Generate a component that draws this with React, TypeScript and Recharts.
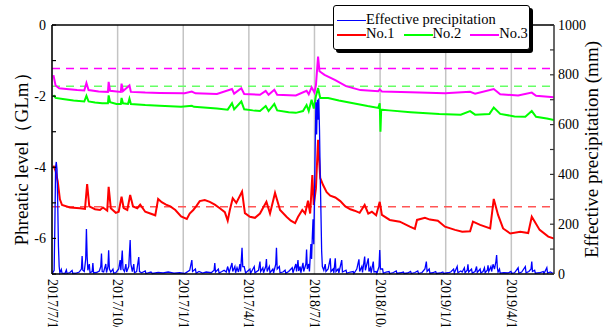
import { LineChart, Line, XAxis, YAxis, CartesianGrid, ReferenceLine, Legend } from 'recharts';

const SERIF = '"Liberation Serif", "Times New Roman", serif';

// x values are days counted from 2017/7/1
const dateTicks = [0, 91.5, 183, 274.5, 366, 457.5, 549, 640.5];
const dateLabels = ['2017/7/1', '2017/10/1', '2017/1/1', '2017/4/1', '2018/7/1', '2018/10/1', '2019/1/1', '2019/4/1'];

const levelTicks = [-7, -6, -5, -4, -3, -2, -1, 0];
const precipTicks = [0, 100, 200, 300, 400, 500, 600, 700, 800, 900, 1000];

// control levels (GLm)
const no1Control = -5.11;
const no2Control = -1.72;
const no3Control = -1.22;

// [day, GLm]
const no1Level: [number, number][] = [
  [2, -3.95], [5, -4.1], [8, -4.4], [11, -4.9], [14, -5.06], [25, -5.13], [39, -5.15], [46, -5.17],
  [49, -4.47], [52, -5.1], [60, -5.18], [67, -5.2], [71, -5.13], [77, -5.22], [79, -4.55], [82, -5.15],
  [89, -5.28], [93, -5.25], [97, -4.83], [100, -5.15], [105, -5.2], [109, -4.78], [113, -5.1], [119, -5.15],
  [123, -5.05], [130, -5.25], [137, -5.3], [144, -5.35], [148, -4.89], [153, -4.98], [159, -5.05], [165, -5.1],
  [172, -5.2], [180, -5.38], [188, -5.45], [192, -5.3], [197, -5.2], [201, -5.1], [206, -4.95], [213, -4.92],
  [220, -4.97], [227, -5.05], [234, -5.15], [241, -5.26], [245, -5.5], [248, -5.2], [252, -4.87], [257, -5.0],
  [265, -4.68], [269, -5.29], [276, -5.39], [283, -5.42], [290, -5.3], [294, -5.15], [299, -4.97], [304, -5.3],
  [311, -4.72], [318, -5.2], [327, -5.39], [333, -5.5], [339, -5.57], [343, -5.4], [349, -5.2], [353, -5.3],
  [357, -4.94], [360, -5.3], [363, -4.22], [365, -5.06], [368, -4.6], [371, -3.23], [374, -4.3], [378, -4.5],
  [383, -4.7], [388, -4.8], [395, -4.85], [402, -4.95], [409, -5.1], [416, -5.18], [422, -5.22], [429, -5.28],
  [436, -5.06], [441, -5.3], [446, -5.25], [452, -5.35], [457, -4.97], [460, -5.34], [471, -5.48], [485, -5.53],
  [499, -5.67], [506, -5.73], [509, -5.48], [520, -5.42], [527, -5.47], [538, -5.5], [548, -5.67], [562, -5.76],
  [572, -5.81], [583, -5.8], [587, -5.53], [597, -5.62], [611, -5.72], [616, -4.89], [622, -5.34], [629, -5.72],
  [639, -5.86], [653, -5.81], [664, -5.85], [669, -5.39], [680, -5.76], [692, -5.95], [700, -6.0],
];

const no2Level: [number, number][] = [
  [2, -1.97], [5, -2.05], [15, -2.08], [30, -2.12], [45, -2.15], [48, -1.99], [51, -2.15], [60, -2.18],
  [70, -2.2], [78, -2.2], [79, -1.98], [81, -2.17], [90, -2.22], [96, -2.22], [97, -2.05], [99, -2.2],
  [106, -2.22], [108, -2.07], [110, -2.22], [130, -2.25], [150, -2.27], [180, -2.3], [195, -2.27], [198, -2.3],
  [230, -2.35], [245, -2.38], [251, -2.2], [254, -2.37], [264, -2.15], [268, -2.37], [280, -2.4], [290, -2.42],
  [298, -2.28], [302, -2.42], [310, -2.22], [314, -2.4], [330, -2.45], [340, -2.47], [350, -2.42], [355, -2.25],
  [358, -2.42], [362, -2.1], [365, -2.35], [368, -2.0], [371, -1.77], [374, -2.05], [385, -2.05], [400, -2.12],
  [420, -2.2], [440, -2.28], [455, -2.33], [457, -2.2], [458, -3.0], [459, -2.38], [470, -2.4], [500, -2.45],
  [540, -2.5], [570, -2.52], [583, -2.42], [590, -2.52], [610, -2.5], [616, -2.32], [625, -2.5], [645, -2.57],
  [660, -2.58], [669, -2.42], [675, -2.58], [690, -2.63], [700, -2.67],
];

const no3Level: [number, number][] = [
  [2, -1.41], [5, -1.7], [10, -1.78], [20, -1.8], [35, -1.83], [45, -1.84], [48, -1.63], [51, -1.83],
  [65, -1.87], [78, -1.88], [79, -1.6], [81, -1.85], [96, -1.88], [97, -1.65], [99, -1.86], [108, -1.7],
  [110, -1.88], [130, -1.9], [150, -1.91], [185, -1.92], [195, -1.87], [200, -1.92], [230, -1.94], [251, -1.8],
  [254, -1.93], [264, -1.78], [268, -1.94], [290, -1.96], [298, -1.85], [302, -1.96], [310, -1.82], [314, -1.96],
  [340, -1.98], [355, -1.85], [358, -1.95], [362, -1.75], [366, -1.9], [368, -1.7], [371, -0.89], [373, -1.3],
  [380, -1.4], [395, -1.55], [410, -1.72], [430, -1.83], [455, -1.86], [457, -1.81], [460, -1.87], [500, -1.89],
  [548, -1.92], [583, -1.88], [590, -1.93], [616, -1.8], [625, -1.95], [650, -1.98], [669, -1.9], [675, -1.99],
  [700, -2.03],
];

// [day, mm]
const precipitation: [number, number][] = [
  [0, 0], [3, 15], [4, 200], [5, 430], [6, 450], [7, 420], [8, 280], [9, 110], [10, 30], [11, 5], [13, 18], [14, 3],
  [18, 2], [20, 16], [21, 2], [25, 6], [28, 14], [29, 2], [33, 3], [38, 8], [41, 20], [42, 72], [43, 15], [45, 10],
  [47, 60], [48, 181], [49, 70], [50, 15], [52, 40], [53, 5], [56, 10], [57, 44], [58, 4], [62, 6], [66, 12], [68, 30],
  [69, 82], [70, 10], [72, 8], [75, 40], [76, 6], [78, 30], [79, 95], [80, 20], [82, 8], [85, 20], [86, 3], [89, 5],
  [93, 20], [95, 56], [96, 15], [98, 94], [99, 20], [101, 10], [103, 40], [104, 8], [107, 30], [109, 136], [110, 40],
  [112, 10], [114, 40], [115, 5], [118, 10], [121, 68], [122, 10], [125, 5], [130, 12], [131, 2], [138, 8], [140, 2],
  [148, 6], [155, 4], [162, 8], [170, 3], [178, 5], [185, 2], [192, 15], [195, 56], [196, 10], [200, 20], [201, 3],
  [205, 10], [210, 4], [215, 8], [222, 5], [226, 15], [227, 44], [228, 8], [232, 20], [233, 4], [237, 10], [240, 15],
  [243, 8], [245, 30], [247, 6], [251, 44], [252, 10], [255, 30], [256, 5], [258, 25], [260, 8], [262, 40], [263, 10],
  [265, 105], [266, 30], [268, 30], [270, 4], [276, 20], [277, 3], [282, 30], [283, 5], [288, 15], [290, 50], [291, 10],
  [294, 25], [295, 5], [298, 30], [299, 60], [300, 10], [303, 30], [304, 5], [308, 20], [309, 4], [312, 40], [313, 105],
  [314, 20], [317, 30], [318, 5], [322, 8], [325, 15], [326, 3], [330, 10], [335, 25], [336, 5], [340, 40], [341, 10],
  [343, 56], [344, 12], [346, 30], [347, 5], [350, 45], [351, 10], [354, 40], [355, 98], [356, 20], [358, 40], [359, 10],
  [361, 120], [362, 60], [363, 150], [364, 220], [365, 120], [366, 300], [367, 520], [368, 690], [369, 560], [370, 700],
  [371, 620], [372, 705], [373, 580], [374, 400], [375, 250], [376, 92], [377, 30], [379, 15], [381, 40], [382, 10],
  [385, 20], [388, 63], [389, 10], [392, 20], [393, 5], [395, 63], [396, 10], [399, 20], [400, 5], [404, 56], [405, 8],
  [410, 15], [411, 3], [416, 8], [420, 10], [421, 2], [425, 20], [428, 59], [429, 10], [432, 30], [433, 6], [436, 70],
  [437, 15], [441, 63], [442, 10], [444, 25], [445, 5], [448, 50], [449, 8], [452, 10], [453, 2], [456, 30], [457, 96],
  [458, 20], [461, 20], [462, 3], [466, 8], [470, 10], [471, 2], [476, 6], [480, 12], [481, 2], [486, 5], [490, 8],
  [491, 2], [496, 4], [500, 10], [501, 2], [506, 6], [510, 12], [511, 2], [516, 6], [520, 20], [522, 50], [523, 10],
  [526, 20], [527, 3], [531, 5], [535, 10], [536, 2], [541, 4], [545, 8], [546, 2], [552, 5], [556, 8], [560, 20],
  [561, 4], [565, 30], [566, 5], [570, 12], [572, 8], [575, 25], [576, 5], [579, 15], [580, 39], [581, 8], [585, 20],
  [586, 4], [590, 10], [592, 30], [593, 6], [597, 20], [598, 4], [601, 10], [603, 25], [604, 5], [607, 15], [608, 35],
  [609, 10], [612, 30], [613, 10], [615, 39], [617, 20], [619, 50], [620, 76], [621, 25], [622, 8], [624, 20], [625, 3],
  [630, 5], [636, 4], [640, 10], [641, 2], [645, 5], [650, 25], [651, 4], [655, 8], [660, 30], [661, 5], [665, 10],
  [668, 20], [669, 50], [670, 10], [673, 15], [674, 3], [680, 5], [685, 10], [686, 2], [690, 25], [691, 4], [695, 8],
  [698, 3], [700, 5],
];

const toPoints = (rows: [number, number][]) => rows.map(([day, v]) => ({ day, v }));

const legendItems = [
  { name: 'No.1', color: '#ff0000' },
  { name: 'No.2', color: '#00ff00' },
  { name: 'No.3', color: '#ff00ff' },
];

function Swatch({ color, weight = 2 }: { color: string; weight?: number }) {
  return <span style={{ display: 'inline-block', width: 29, height: weight, background: color, verticalAlign: 'middle' }} />;
}

function LegendBox() {
  return (
    <div
      style={{
        width: 197,
        height: 45,
        border: '1.5px solid #000',
        borderRadius: 3,
        boxShadow: '3px 3px 0 #000',
        background: '#fff',
        fontFamily: SERIF,
        fontSize: 14.5,
        lineHeight: '15px',
        color: '#000',
        padding: '6px 0 0 3px',
        boxSizing: 'border-box',
        whiteSpace: 'nowrap',
      }}
    >
      <div style={{ height: 14 }}>
        <Swatch color="#0000ff" weight={1} />
        Effective precipitation
      </div>
      <div>
        {legendItems.map((it, i) => (
          <span key={it.name} style={{ marginLeft: i === 0 ? 0 : 9 }}>
            <Swatch color={it.color} />
            {it.name}
          </span>
        ))}
      </div>
    </div>
  );
}

function DateTick({ x, y, payload }: any) {
  const label = dateLabels[dateTicks.indexOf(payload.value)];
  return (
    <g transform={`translate(${x},${y + 5})`}>
      <text transform="rotate(90)" textAnchor="start" dominantBaseline="central" fontFamily={SERIF} fontSize={14} fill="#000">
        {label}
      </text>
    </g>
  );
}

function LevelTick({ x, y, payload }: any) {
  return (
    <g>
      <line x1={x} x2={x + 4} y1={y} y2={y} stroke="#000" strokeWidth={1.2} />
      {payload.value % 2 === 0 && (
        <text x={x - 6} y={y} textAnchor="end" dominantBaseline="central" fontFamily={SERIF} fontSize={14} fill="#000">
          {payload.value}
        </text>
      )}
    </g>
  );
}

function PrecipTick({ x, y, payload }: any) {
  return (
    <g>
      <line x1={x - 4} x2={x} y1={y} y2={y} stroke="#333" strokeWidth={1.2} />
      {payload.value % 200 === 0 && (
        <text x={x + 4} y={y} textAnchor="start" dominantBaseline="central" fontFamily={SERIF} fontSize={14} fill="#000">
          {payload.value}
        </text>
      )}
    </g>
  );
}

function AxisTitle({ viewBox, value, cx, dy = 0 }: any) {
  const cy = viewBox.y + viewBox.height / 2 + dy;
  return (
    <text
      x={cx}
      y={cy}
      transform={`rotate(-90 ${cx} ${cy})`}
      textAnchor="middle"
      dominantBaseline="central"
      fontFamily={SERIF}
      fontSize={19}
      fill="#000"
    >
      {value}
    </text>
  );
}

export default function App() {
  return (
    <div style={{ position: 'absolute', left: 0, top: 0, background: '#fff' }}>
      <LineChart width={603} height={327} margin={{ top: 25, right: 0, bottom: 0, left: 0 }}>
        <CartesianGrid horizontal={false} stroke="#c4c4c4" strokeWidth={1.5} />
        <XAxis
          type="number"
          dataKey="day"
          domain={[0, 700]}
          ticks={dateTicks}
          height={53}
          tick={DateTick}
          tickLine={false}
          tickSize={0}
          tickMargin={0}
          axisLine={{ stroke: '#000', strokeWidth: 1.5 }}
          allowDataOverflow
        />
        <YAxis
          yAxisId="level"
          domain={[-7, 0]}
          ticks={levelTicks}
          width={52}
          tick={LevelTick}
          tickLine={false}
          tickSize={0}
          tickMargin={0}
          axisLine={{ stroke: '#000', strokeWidth: 1.5 }}
          label={<AxisTitle value="Phreatic level（GLm）" cx={21} dy={5} />}
        />
        <YAxis
          yAxisId="precip"
          orientation="right"
          domain={[0, 1000]}
          ticks={precipTicks}
          width={49}
          tick={PrecipTick}
          tickLine={false}
          tickSize={0}
          tickMargin={0}
          axisLine={{ stroke: '#444', strokeWidth: 1.5 }}
          label={<AxisTitle value="Effective precipitation (mm)" cx={591} />}
        />
        <ReferenceLine yAxisId="level" y={0} stroke="#000" strokeWidth={1.5} />
        <ReferenceLine yAxisId="level" y={no3Control} stroke="#ff00ff" strokeWidth={1.5} strokeDasharray="8 6" />
        <ReferenceLine yAxisId="level" y={no2Control} stroke="#66ff66" strokeWidth={1.5} strokeDasharray="8 6" />
        <ReferenceLine yAxisId="level" y={no1Control} stroke="#ff5555" strokeWidth={1.5} strokeDasharray="8 6" />
        <Line yAxisId="level" data={toPoints(no1Level)} dataKey="v" name="No.1" stroke="#ff0000" strokeWidth={2} dot={false} isAnimationActive={false} />
        <Line yAxisId="level" data={toPoints(no2Level)} dataKey="v" name="No.2" stroke="#00ff00" strokeWidth={2} dot={false} isAnimationActive={false} />
        <Line yAxisId="level" data={toPoints(no3Level)} dataKey="v" name="No.3" stroke="#ff00ff" strokeWidth={2} dot={false} isAnimationActive={false} />
        <Line yAxisId="precip" data={toPoints(precipitation)} dataKey="v" name="Effective precipitation" stroke="#0000ff" strokeWidth={1.3} dot={false} isAnimationActive={false} />
        <Legend
          content={<LegendBox />}
          layout="horizontal"
          verticalAlign="middle"
          wrapperStyle={{ position: 'absolute', left: 333, top: 5, width: 'auto', height: 'auto' }}
        />
      </LineChart>
    </div>
  );
}
